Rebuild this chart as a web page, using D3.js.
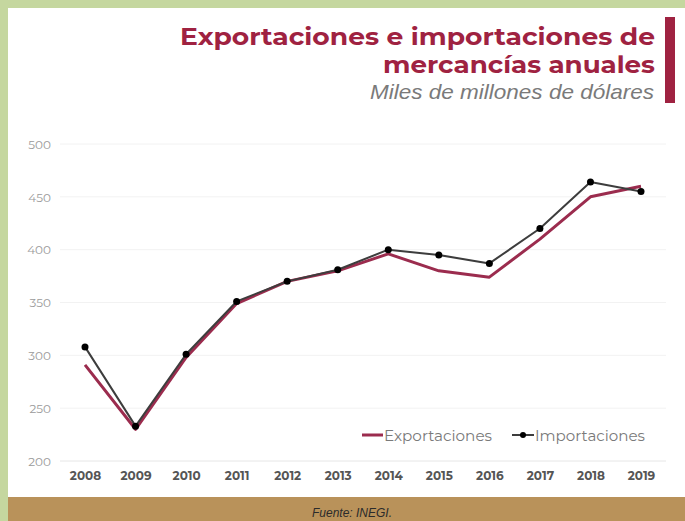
<!DOCTYPE html>
<html><head><meta charset="utf-8">
<script src="https://cdn.jsdelivr.net/npm/d3@7"></script>
<style>html,body{margin:0;padding:0;background:#fff;}svg{display:block;}</style>
</head><body>
<svg id="c" width="685" height="521"></svg>
<script>
const years = ["2008","2009","2010","2011","2012","2013","2014","2015","2016","2017","2018","2019"];
const exportaciones = [291, 230, 298, 349, 370, 380, 396, 380, 374, 410, 450, 460];
const importaciones = [308, 233, 301, 351, 370, 381, 400, 395, 387, 420, 464, 455];
const yTicks = [200, 250, 300, 350, 400, 450, 500];
const seriesNames = ["Exportaciones", "Importaciones"];
const titleLines = ["Exportaciones e importaciones de", "mercancías anuales"];
const subtitle = "Miles de millones de dólares";
const source = "Fuente: INEGI.";

const svg = d3.select("#c");
const W = 685, H = 521;
const font = "Montserrat, 'Open Sans', 'Noto Sans', sans-serif";

// background frame
svg.append("rect").attr("x",0).attr("y",0).attr("width",W).attr("height",H).attr("fill","#c5d79f");
svg.append("rect").attr("x",8).attr("y",8).attr("width",W-8).attr("height",H-8).attr("fill","#ffffff");
svg.append("rect").attr("x",8).attr("y",497).attr("width",W-8).attr("height",H-497).attr("fill","#b9925a");

// title
svg.append("rect").attr("x",665).attr("y",17).attr("width",10).attr("height",86).attr("fill","#9f2241");
svg.append("text").attr("x",655).attr("y",45).attr("text-anchor","end")
  .attr("font-family",font).attr("font-weight","bold").attr("font-size",23).attr("fill","#9f2241")
  .attr("textLength",475).attr("lengthAdjust","spacingAndGlyphs").text(titleLines[0]);
svg.append("text").attr("x",655).attr("y",73).attr("text-anchor","end")
  .attr("font-family",font).attr("font-weight","bold").attr("font-size",23).attr("fill","#9f2241")
  .attr("textLength",272).attr("lengthAdjust","spacingAndGlyphs").text(titleLines[1]);
svg.append("text").attr("x",654).attr("y",99).attr("text-anchor","end")
  .attr("font-family","'Liberation Sans', Arial, sans-serif").attr("font-style","italic").attr("font-size",21).attr("fill","#7a7a7a")
  .attr("textLength",284).attr("lengthAdjust","spacingAndGlyphs").text(subtitle);

// source
svg.append("text").attr("x",352).attr("y",517).attr("text-anchor","middle")
  .attr("font-family","'Liberation Sans', Arial, sans-serif").attr("font-style","italic").attr("font-size",12).attr("fill","#2b2b2b")
  .text(source);

// scales
const x = d3.scalePoint().domain(years).range([85, 641]);
const y = d3.scaleLinear().domain([200, 500]).range([461, 144]);

// grid
const yAxis = d3.axisLeft(y).tickValues(yTicks).tickSize(0).tickPadding(0);
const gy = svg.append("g").attr("transform","translate(51,0)").call(yAxis);
gy.select(".domain").remove();
gy.selectAll("text").attr("font-family",font).attr("font-size",12).attr("fill","#9a9a9a").attr("dy","0.35em");
svg.append("g").selectAll("line").data(yTicks).join("line")
  .attr("x1",60).attr("x2",666).attr("y1",d=>y(d)).attr("y2",d=>y(d))
  .attr("stroke", d => d===200 ? "#e6e6e6" : "#f2f2f2").attr("stroke-width",1);

const xAxis = d3.axisBottom(x).tickSize(0).tickPadding(0);
const gx = svg.append("g").attr("transform","translate(0,471)").call(xAxis);
gx.select(".domain").remove();
gx.selectAll("text").attr("font-family",font).attr("font-weight","bold").attr("font-size",12).attr("fill","#555").attr("dy","0.71em");

// lines
const line = d3.line().x((d,i)=>x(years[i])).y(d=>y(d));
svg.append("path").datum(exportaciones).attr("d",line).attr("fill","none")
  .attr("stroke","#9b2c4e").attr("stroke-width",3).attr("stroke-linejoin","round");
svg.append("path").datum(importaciones).attr("d",line).attr("fill","none")
  .attr("stroke","#3d3d3d").attr("stroke-width",2).attr("stroke-linejoin","round");
svg.append("g").selectAll("circle").data(importaciones).join("circle")
  .attr("cx",(d,i)=>x(years[i])).attr("cy",d=>y(d)).attr("r",3.5).attr("fill","#000");

// legend
const lg = svg.append("g");
lg.append("line").attr("x1",362).attr("x2",383).attr("y1",435).attr("y2",435).attr("stroke","#9b2c4e").attr("stroke-width",3);
lg.append("text").attr("x",384).attr("y",441).attr("font-family",font).attr("font-size",15).attr("fill","#7a7a7a")
  .attr("textLength",108).attr("lengthAdjust","spacingAndGlyphs").text(seriesNames[0]);
lg.append("line").attr("x1",512).attr("x2",534).attr("y1",435).attr("y2",435).attr("stroke","#3d3d3d").attr("stroke-width",2);
lg.append("circle").attr("cx",523).attr("cy",435).attr("r",3).attr("fill","#000");
lg.append("text").attr("x",535).attr("y",441).attr("font-family",font).attr("font-size",15).attr("fill","#7a7a7a")
  .attr("textLength",110).attr("lengthAdjust","spacingAndGlyphs").text(seriesNames[1]);
</script>
</body></html>
